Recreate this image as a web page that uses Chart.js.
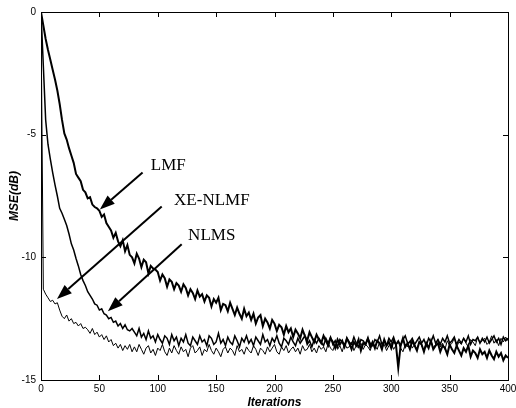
<!DOCTYPE html>
<html>
<head>
<meta charset="utf-8">
<script src="https://cdn.jsdelivr.net/npm/chart.js@4.4.0/dist/chart.umd.min.js"></script>
<style>
  html, body { margin: 0; padding: 0; background: #fff; }
  #wrap { width: 516px; height: 408px; }
</style>
</head>
<body>
<div id="wrap"><canvas id="mseChart" width="516" height="408"></canvas></div>
<script>
// iterations 0..400 step 2
const iterations = [];
for (let i = 0; i <= 400; i += 2) iterations.push(i);

const xTicks = [0, 50, 100, 150, 200, 250, 300, 350, 400];
const yTicks = [0, -5, -10, -15];

// MSE in dB (one value every 2 iterations)
const lmf = [
  0, -0.55, -1.1, -1.55, -1.95, -2.35, -2.75, -3.2, -3.75, -4.4,
  -4.95, -5.2, -5.55, -5.85, -6.15, -6.6, -6.75, -6.9, -7.25, -7.35,
  -7.6, -7.55, -7.85, -7.95, -8.0, -8.1, -8.35, -8.25, -8.6, -8.75,
  -8.9, -9.2, -9.0, -9.35, -9.55, -9.3, -9.75, -9.5, -9.9, -10.0,
  -10.25, -9.85, -10.05, -10.4, -10.1, -10.2, -10.65, -10.35, -10.45, -10.5,
  -10.6, -10.95, -10.7, -10.85, -11.2, -10.9, -11.0, -11.3, -11.05, -11.15,
  -11.4, -11.1, -11.25, -11.55, -11.3, -11.45, -11.7, -11.35, -11.6, -11.5,
  -11.8, -11.55, -11.65, -12.0, -11.7, -11.85, -11.65, -12.15, -11.9, -11.95,
  -12.2, -11.85, -12.1, -12.35, -12.05, -12.3, -12.5, -12.1, -12.4, -12.25,
  -12.55, -12.3, -12.7, -12.45, -12.35, -12.8, -12.5, -12.65, -12.9, -12.55,
  -12.7, -13.0, -12.75, -12.85, -13.15, -12.8, -13.05, -12.9, -13.25, -12.95,
  -13.1, -13.3, -12.95, -13.2, -13.4, -13.05, -13.25, -13.45, -13.15, -13.35,
  -13.5, -13.2, -13.4, -13.6, -13.3, -13.45, -13.7, -13.35, -13.55, -13.4,
  -13.65, -13.3, -13.5, -13.75, -13.45, -13.6, -13.35, -13.8, -13.5, -13.55,
  -13.3, -13.65, -13.45, -13.7, -13.4, -13.5, -13.75, -13.35, -13.6, -13.45,
  -13.7, -13.4, -13.55, -14.5, -13.6, -13.3, -13.65, -13.5, -13.75, -13.4,
  -13.6, -13.8, -13.45, -13.55, -13.85, -13.5, -13.7, -13.4, -13.75, -13.6,
  -13.5, -13.85, -13.6, -13.7, -13.95, -13.55, -13.75, -13.9, -13.6, -13.8,
  -14.0, -13.7, -13.85, -13.6, -14.05, -13.8, -13.9, -14.1, -13.75, -13.95,
  -13.85, -14.1, -13.8, -14.0, -14.15, -13.85, -14.05, -13.9, -14.2, -14.0,
  -14.1
];

const xeNlmf = [
  0, -11.3, -11.5, -11.65, -11.8, -11.75, -11.9, -11.85, -12.15, -12.4,
  -12.5, -12.35, -12.6, -12.5, -12.7, -12.65, -12.8, -12.7, -12.9, -12.85,
  -12.95, -13.1, -12.9, -13.15, -13.05, -13.25, -13.15, -13.35, -13.2, -13.45,
  -13.35, -13.6, -13.5, -13.7, -13.55, -13.8, -13.6, -13.75, -13.55, -13.85,
  -13.65, -13.85, -13.55, -13.75, -13.95, -13.7, -13.6, -13.9, -13.75, -14.0,
  -13.7, -13.8, -13.55, -13.85, -14.0, -13.7, -13.9, -13.6, -13.8, -13.95,
  -13.65, -13.85, -13.75, -14.05, -13.7, -13.6, -13.9, -13.8, -13.65, -14.0,
  -13.75, -13.85, -13.55, -13.8, -13.95, -13.7, -13.85, -14.05, -13.75, -13.65,
  -13.9, -13.7, -13.8, -14.0, -13.6, -13.85, -13.75, -13.95, -13.65, -13.8,
  -13.9, -13.6, -13.75, -14.0, -13.7, -13.8, -13.95, -13.65, -13.85, -13.7,
  -13.55, -13.85, -13.95, -13.65, -13.8, -13.6, -13.9, -13.75, -13.65, -13.85,
  -13.7, -13.95, -13.6, -13.8, -13.75, -13.55, -13.85, -13.7, -13.9, -13.6,
  -13.75, -13.65, -13.85, -13.5, -13.7, -13.8, -13.55, -13.75, -13.6, -13.85,
  -13.5, -13.7, -13.65, -13.45, -13.8, -13.6, -13.7, -13.5, -13.75, -13.55,
  -13.65, -13.8, -13.5, -13.6, -13.75, -13.45, -13.7, -13.55, -13.8, -13.6,
  -13.5, -13.75, -13.6, -13.45, -13.7, -13.85, -13.55, -13.65, -13.4, -13.7,
  -13.55, -13.75, -13.45, -13.6, -13.8, -13.5, -13.65, -13.4, -13.7, -13.55,
  -13.35, -13.65, -13.5, -13.75, -13.4, -13.6, -13.5, -13.3, -13.65, -13.45,
  -13.55, -13.3, -13.5, -13.65, -13.35, -13.45, -13.6, -13.25, -13.5, -13.4,
  -13.3, -13.55, -13.45, -13.2, -13.5, -13.35, -13.6, -13.3, -13.45, -13.25,
  -13.4
];

const nlms = [
  0, -2.2, -4.4, -5.4, -6.0, -6.55, -7.05, -7.5, -8.0, -8.2,
  -8.45, -8.7, -9.05, -9.45, -9.7, -10.05, -10.35, -10.7, -10.95, -11.15,
  -11.4, -11.55, -11.7, -11.9, -11.95, -12.15, -12.1, -12.3, -12.35, -12.5,
  -12.45, -12.65, -12.6, -12.8, -12.7, -12.9, -12.75, -12.95, -13.0, -12.9,
  -13.05, -13.2, -12.9, -13.25, -13.1, -13.35, -13.0, -13.3, -13.2, -13.45,
  -13.15, -13.35, -13.5, -13.2, -13.3, -13.55, -13.15, -13.4, -13.25, -13.6,
  -13.3, -13.45, -13.15, -13.5, -13.6, -13.25, -13.4, -13.55, -13.2, -13.45,
  -13.35, -13.6, -13.2, -13.3, -13.55, -13.45, -13.1, -13.5, -13.35, -13.6,
  -13.25, -13.45, -13.55, -13.2, -13.4, -13.65, -13.3, -13.45, -13.2, -13.5,
  -13.35, -13.6, -13.25, -13.4, -13.55, -13.15, -13.45, -13.35, -13.6, -13.3,
  -13.45, -13.2, -13.5, -13.65, -13.3, -13.4, -13.55, -13.25, -13.45, -13.6,
  -13.3, -13.5, -13.35, -13.2, -13.55, -13.4, -13.65, -13.35, -13.5, -13.3,
  -13.45, -13.6, -13.3, -13.5, -13.25, -13.55, -13.4, -13.65, -13.35, -13.45,
  -13.6, -13.3, -13.45, -13.55, -13.25, -13.5, -13.65, -13.35, -13.4, -13.55,
  -13.3, -13.5, -13.6, -13.35, -13.45, -13.2, -13.55, -13.4, -13.6, -13.3,
  -13.45, -13.25, -13.55, -13.4, -13.6, -13.35, -13.2, -13.5, -13.45, -13.3,
  -13.55, -13.4, -13.25, -13.5, -13.35, -13.6, -13.3, -13.45, -13.2, -13.5,
  -13.35, -13.55, -13.3, -13.45, -13.2, -13.5, -13.4, -13.25, -13.55, -13.35,
  -13.5, -13.3, -13.45, -13.2, -13.55, -13.35, -13.4, -13.25, -13.5, -13.3,
  -13.45, -13.25, -13.5, -13.35, -13.2, -13.45, -13.3, -13.55, -13.25, -13.4,
  -13.3
];

// labels and arrows, in data units: text at (x, y) baseline-left, arrow from tail to tip
const notes = [
  { text: 'LMF',     x: 94,  y: -6.42, tail: [87, -6.54],  tip: [50.4, -8.05] },
  { text: 'XE-NLMF', x: 114, y: -7.85, tail: [103.4, -7.93], tip: [13.7, -11.7] },
  { text: 'NLMS',    x: 126, y: -9.31, tail: [120.5, -9.47], tip: [57.3, -12.2] }
];

const toPoints = arr => arr.map((v, i) => ({ x: iterations[i], y: v }));

const frameAndNotes = {
  id: 'frameAndNotes',
  afterDatasetsDraw(chart) {
    const ctx = chart.ctx;
    const a = chart.chartArea;
    const xs = chart.scales.x, ys = chart.scales.y;
    ctx.save();
    ctx.strokeStyle = '#000';
    ctx.lineWidth = 1;
    ctx.strokeRect(Math.round(a.left) + 0.5, Math.round(a.top) + 0.5,
                   Math.round(a.right - a.left), Math.round(a.bottom - a.top));
    // inward ticks
    ctx.beginPath();
    xTicks.forEach(t => {
      const px = Math.round(xs.getPixelForValue(t)) + 0.5;
      ctx.moveTo(px, a.bottom); ctx.lineTo(px, a.bottom - 5);
      ctx.moveTo(px, a.top); ctx.lineTo(px, a.top + 5);
    });
    yTicks.forEach(t => {
      const py = Math.round(ys.getPixelForValue(t)) + 0.5;
      ctx.moveTo(a.left, py); ctx.lineTo(a.left + 5, py);
      ctx.moveTo(a.right, py); ctx.lineTo(a.right - 5, py);
    });
    ctx.stroke();

    // annotations
    ctx.fillStyle = '#000';
    ctx.font = '17px "Liberation Serif", "Times New Roman", serif';
    ctx.textBaseline = 'alphabetic';
    notes.forEach(n => {
      ctx.fillText(n.text, xs.getPixelForValue(n.x), ys.getPixelForValue(n.y));
      const x0 = xs.getPixelForValue(n.tail[0]), y0 = ys.getPixelForValue(n.tail[1]);
      const x1 = xs.getPixelForValue(n.tip[0]), y1 = ys.getPixelForValue(n.tip[1]);
      const ang = Math.atan2(y1 - y0, x1 - x0);
      const hl = 15, hw = 5.5;
      const bx = x1 - hl * Math.cos(ang), by = y1 - hl * Math.sin(ang);
      ctx.lineWidth = 2;
      ctx.beginPath();
      ctx.moveTo(x0, y0); ctx.lineTo(bx, by);
      ctx.stroke();
      ctx.beginPath();
      ctx.moveTo(x1, y1);
      ctx.lineTo(bx + hw * Math.sin(ang), by - hw * Math.cos(ang));
      ctx.lineTo(bx - hw * Math.sin(ang), by + hw * Math.cos(ang));
      ctx.closePath();
      ctx.fill();
    });

    // axis titles
    ctx.font = 'italic bold 12px "Liberation Sans", Arial, sans-serif';
    ctx.textAlign = 'center';
    ctx.textBaseline = 'middle';
    ctx.fillText('Iterations', (a.left + a.right) / 2, 403);
    ctx.translate(15, (a.top + a.bottom) / 2);
    ctx.rotate(-Math.PI / 2);
    ctx.fillText('MSE(dB)', 0, 0);
    ctx.restore();
  }
};

new Chart(document.getElementById('mseChart'), {
  type: 'line',
  data: {
    datasets: [
      { label: 'LMF', data: toPoints(lmf), borderColor: '#000', borderWidth: 2 },
      { label: 'NLMS', data: toPoints(nlms), borderColor: '#000', borderWidth: 1.5 },
      { label: 'XE-NLMF', data: toPoints(xeNlmf), borderColor: '#000', borderWidth: 1 }
    ]
  },
  options: {
    responsive: false,
    animation: false,
    layout: { padding: { top: 12, right: 8, left: 0, bottom: 0 } },
    elements: { point: { radius: 0 }, line: { tension: 0 } },
    plugins: { legend: { display: false }, tooltip: { enabled: false } },
    scales: {
      x: {
        type: 'linear', min: 0, max: 400,
        grid: { display: false, drawTicks: false },
        border: { display: false },
        afterBuildTicks: s => { s.ticks = xTicks.map(v => ({ value: v })); },
        afterFit: s => { s.height = 28; s.paddingLeft = 0; s.paddingRight = 0; },
        ticks: { padding: 3, color: '#000', maxRotation: 0,
                 font: { family: '"Liberation Sans", Arial, sans-serif', size: 10 } }
      },
      y: {
        min: -15, max: 0,
        grid: { display: false, drawTicks: false },
        border: { display: false },
        afterBuildTicks: s => { s.ticks = yTicks.map(v => ({ value: v })); },
        afterFit: s => { s.width = 41; s.paddingTop = 0; s.paddingBottom = 0; },
        ticks: { padding: 5, color: '#000',
                 font: { family: '"Liberation Sans", Arial, sans-serif', size: 10 } }
      }
    }
  },
  plugins: [frameAndNotes]
});
</script>
</body>
</html>
